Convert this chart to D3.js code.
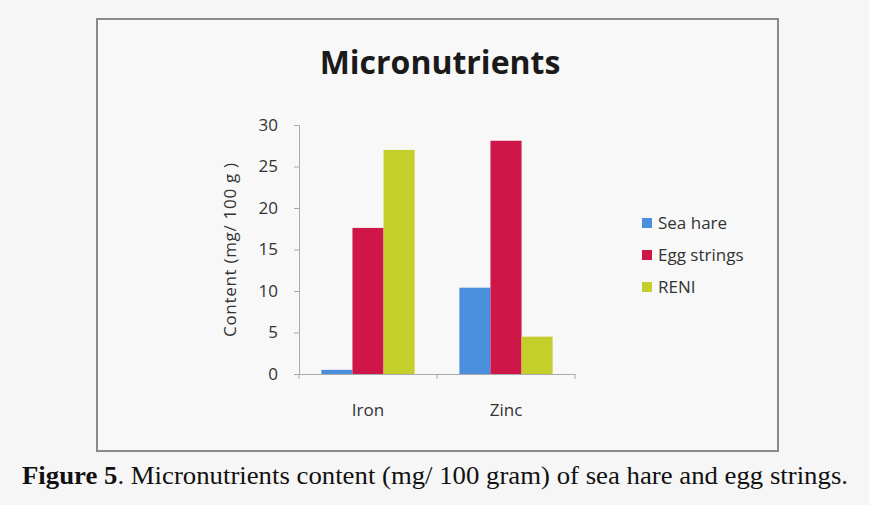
<!DOCTYPE html>
<html>
<head>
<meta charset="utf-8">
<script src="https://cdn.jsdelivr.net/npm/d3@7"></script>
<style>
    body { margin: 0; background: #f6f6f6; }
    svg { display: block; }
</style>
</head>
<body>
<div id="chart"></div>
<script>
var categories = ['Iron', 'Zinc'];
var seriesNames = ['Sea hare', 'Egg strings', 'RENI'];
var seaHare = [0.5, 10.4];
var eggStrings = [17.6, 28.1];
var reni = [27.0, 4.5];
var yTicks = [0, 5, 10, 15, 20, 25, 30];
var colors = ['#4a8fdc', '#cf1648', '#c4cf2c'];

var width = 869, height = 505;
var font = '"Open Sans", sans-serif';

var svg = d3.select('#chart').append('svg')
    .attr('width', width)
    .attr('height', height);

svg.append('rect')
    .attr('width', width).attr('height', height)
    .attr('fill', '#f6f6f6');

// chart frame
svg.append('rect')
    .attr('x', 97).attr('y', 19)
    .attr('width', 681).attr('height', 432)
    .attr('fill', '#f8f8f8')
    .attr('stroke', '#8a8a8a')
    .attr('stroke-width', 2);

svg.append('text')
    .attr('x', 440).attr('y', 74)
    .attr('text-anchor', 'middle')
    .attr('font-family', font)
    .attr('font-weight', 'bold')
    .attr('font-size', 32)
    .attr('fill', '#1a1a1a')
    .text('Micronutrients');

var x0 = d3.scaleBand().domain(categories).range([299, 575]);
var x1 = d3.scaleBand().domain(seriesNames).range([0, x0.bandwidth()]).paddingOuter(0.72);
var y = d3.scaleLinear().domain([0, 30]).range([374, 125]);

var rows = categories.map(function (c, i) {
    return { cat: c, values: [seaHare[i], eggStrings[i], reni[i]] };
});

// y axis
var yAxis = svg.append('g')
    .attr('transform', 'translate(299,0)')
    .call(d3.axisLeft(y).tickValues(yTicks).tickSize(5).tickPadding(16));
yAxis.select('.domain').attr('stroke', '#aaaaaa');
yAxis.selectAll('.tick line').attr('stroke', '#aaaaaa');
yAxis.selectAll('.tick text')
    .attr('font-family', font)
    .attr('font-size', 17)
    .attr('fill', '#333');

// x axis
var xAxis = svg.append('g')
    .attr('transform', 'translate(0,374)')
    .call(d3.axisBottom(x0).tickSize(0).tickPadding(0).tickFormat(''));
xAxis.select('.domain').attr('stroke', '#aaaaaa');
xAxis.selectAll('.tick').remove();
xAxis.selectAll('.sep')
    .data([299, 299 + x0.step(), 575])
    .enter().append('line')
    .attr('x1', function (d) { return d; })
    .attr('x2', function (d) { return d; })
    .attr('y1', 0).attr('y2', 5)
    .attr('stroke', '#aaaaaa');

svg.selectAll('.catlabel')
    .data(categories)
    .enter().append('text')
    .attr('x', function (d) { return x0(d) + x0.bandwidth() / 2; })
    .attr('y', 416)
    .attr('text-anchor', 'middle')
    .attr('font-family', font)
    .attr('font-size', 17)
    .attr('fill', '#333')
    .text(function (d) { return d; });

// bars
var groups = svg.selectAll('.grp')
    .data(rows)
    .enter().append('g')
    .attr('transform', function (d) { return 'translate(' + x0(d.cat) + ',0)'; });

groups.selectAll('rect')
    .data(function (d) { return d.values; })
    .enter().append('rect')
    .attr('x', function (d, i) { return x1(seriesNames[i]); })
    .attr('width', x1.bandwidth())
    .attr('y', function (d) { return y(d); })
    .attr('height', function (d) { return y(0) - y(d); })
    .attr('fill', function (d, i) { return colors[i]; });

// y label
svg.append('text')
    .attr('transform', 'translate(236,250) rotate(-90)')
    .attr('text-anchor', 'middle')
    .attr('font-family', font)
    .attr('font-size', 17)
    .attr('textLength', 174)
    .attr('fill', '#333')
    .text('Content (mg/ 100 g )');

// legend
var legend = svg.selectAll('.leg')
    .data(seriesNames)
    .enter().append('g')
    .attr('transform', function (d, i) { return 'translate(642,' + (218 + i * 32) + ')'; });
legend.append('rect')
    .attr('width', 10).attr('height', 10)
    .attr('fill', function (d, i) { return colors[i]; });
legend.append('text')
    .attr('x', 16).attr('y', 11)
    .attr('font-family', font)
    .attr('font-size', 17)
    .attr('fill', '#333')
    .text(function (d) { return d; });

// caption
var cap = svg.append('text')
    .attr('x', 22).attr('y', 484)
    .attr('font-family', '"Liberation Serif", "Times New Roman", serif')
    .attr('font-size', 26)
    .attr('textLength', 826)
    .attr('lengthAdjust', 'spacingAndGlyphs')
    .attr('fill', '#111');
cap.append('tspan').attr('font-weight', 'bold').text('Figure 5');
cap.append('tspan').text('. Micronutrients content (mg/ 100 gram) of sea hare and egg strings.');
</script>
</body>
</html>
